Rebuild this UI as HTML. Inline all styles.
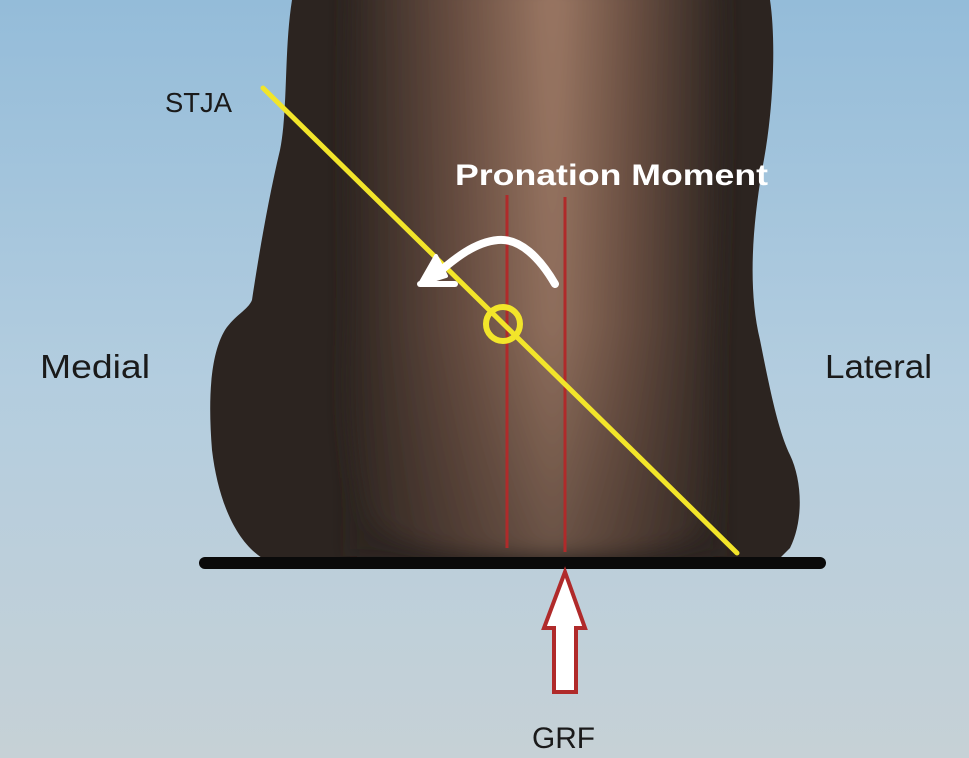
<!DOCTYPE html>
<html><head><meta charset="utf-8"><style>
html,body{margin:0;padding:0;width:969px;height:758px;overflow:hidden}
svg{display:block}
text{font-family:"Liberation Sans","DejaVu Sans",sans-serif}
</style></head><body>
<svg width="969" height="758" viewBox="0 0 969 758" xmlns="http://www.w3.org/2000/svg">
<defs>
<linearGradient id="bg" x1="0" y1="0" x2="0" y2="1">
<stop offset="0" stop-color="#94bcd9"/>
<stop offset="0.5" stop-color="#b3cddf"/>
<stop offset="1" stop-color="#c6d1d6"/>
</linearGradient>
<linearGradient id="skinH" x1="0" y1="0" x2="1" y2="0">
<stop offset="0" stop-color="#2e2521"/>
<stop offset="0.3" stop-color="#6a4f42"/>
<stop offset="0.55" stop-color="#9c7864"/>
<stop offset="0.75" stop-color="#6e5244"/>
<stop offset="1" stop-color="#2e2521"/>
</linearGradient>
<linearGradient id="shade" x1="0" y1="0" x2="0" y2="1">
<stop offset="0" stop-color="#2c2420" stop-opacity="0"/>
<stop offset="0.6" stop-color="#2c2420" stop-opacity="0.1"/>
<stop offset="1" stop-color="#2c2420" stop-opacity="0.45"/>
</linearGradient>
<filter id="blur" x="-10%" y="-10%" width="120%" height="120%"><feGaussianBlur stdDeviation="10"/></filter>
<clipPath id="foot"><path d="M292 0 L770 0 C776 40 774 110 762 170 C752 230 748 290 760 340 C770 390 778 430 790 455 C802 480 804 520 790 548 L780 558 L262 558 C235 540 218 500 212 450 C208 400 210 355 225 330 C235 315 248 310 252 300 C258 260 268 200 280 150 C288 110 284 50 292 0 Z"/></clipPath>
</defs>
<rect width="969" height="758" fill="url(#bg)"/>
<path d="M292 0 L770 0 C776 40 774 110 762 170 C752 230 748 290 760 340 C770 390 778 430 790 455 C802 480 804 520 790 548 L780 558 L262 558 C235 540 218 500 212 450 C208 400 210 355 225 330 C235 315 248 310 252 300 C258 260 268 200 280 150 C288 110 284 50 292 0 Z" fill="#2c2420"/>
<g clip-path="url(#foot)">
<g filter="url(#blur)">
<path d="M350 -20 L720 -20 C725 100 720 250 715 350 C712 430 720 500 700 535 C660 556 600 556 540 556 C460 556 400 548 370 520 C345 470 345 400 348 330 C350 250 345 150 350 -20 Z" fill="url(#skinH)"/>
<path d="M350 -20 L720 -20 L720 556 L350 556 Z" fill="url(#shade)"/>
</g>
</g>
<line x1="205" y1="563" x2="820" y2="563" stroke="#0a0a0a" stroke-width="12" stroke-linecap="round"/>
<line x1="507" y1="195" x2="507" y2="548" stroke="#b02a2a" stroke-width="3"/>
<line x1="565" y1="197" x2="565" y2="552" stroke="#b02a2a" stroke-width="3"/>
<line x1="263" y1="88" x2="737" y2="553" stroke="#f2e52a" stroke-width="5" stroke-linecap="round"/>
<circle cx="503" cy="324" r="17" fill="none" stroke="#f2e52a" stroke-width="6"/>
<path d="M555 284 C540 258 520 238 498 240 C475 242 455 258 432 278" fill="none" stroke="#fff" stroke-width="8" stroke-linecap="round"/>
<path d="M420 284 L436 256 L446 276 Z" fill="#fff" stroke="#fff" stroke-width="4" stroke-linejoin="round"/>
<line x1="420" y1="284" x2="455" y2="284" stroke="#fff" stroke-width="6" stroke-linecap="round"/>
<path d="M565 572 L585 628 L576 628 L576 692 L554 692 L554 628 L544 628 Z" fill="#fff" stroke="#b02a2a" stroke-width="4" stroke-linejoin="miter"/>
<text x="165" y="112" font-size="28" fill="#1a1a1a" textLength="67" lengthAdjust="spacingAndGlyphs">STJA</text>
<text x="455" y="185" font-size="30" font-weight="bold" fill="#ffffff" textLength="313" lengthAdjust="spacingAndGlyphs">Pronation Moment</text>
<text x="40" y="378" font-size="33" fill="#1a1a1a" textLength="110" lengthAdjust="spacingAndGlyphs">Medial</text>
<text x="825" y="378" font-size="33" fill="#1a1a1a" textLength="107" lengthAdjust="spacingAndGlyphs">Lateral</text>
<text x="532" y="748" font-size="30" fill="#1a1a1a" textLength="63" lengthAdjust="spacingAndGlyphs">GRF</text>
</svg>
</body></html>
